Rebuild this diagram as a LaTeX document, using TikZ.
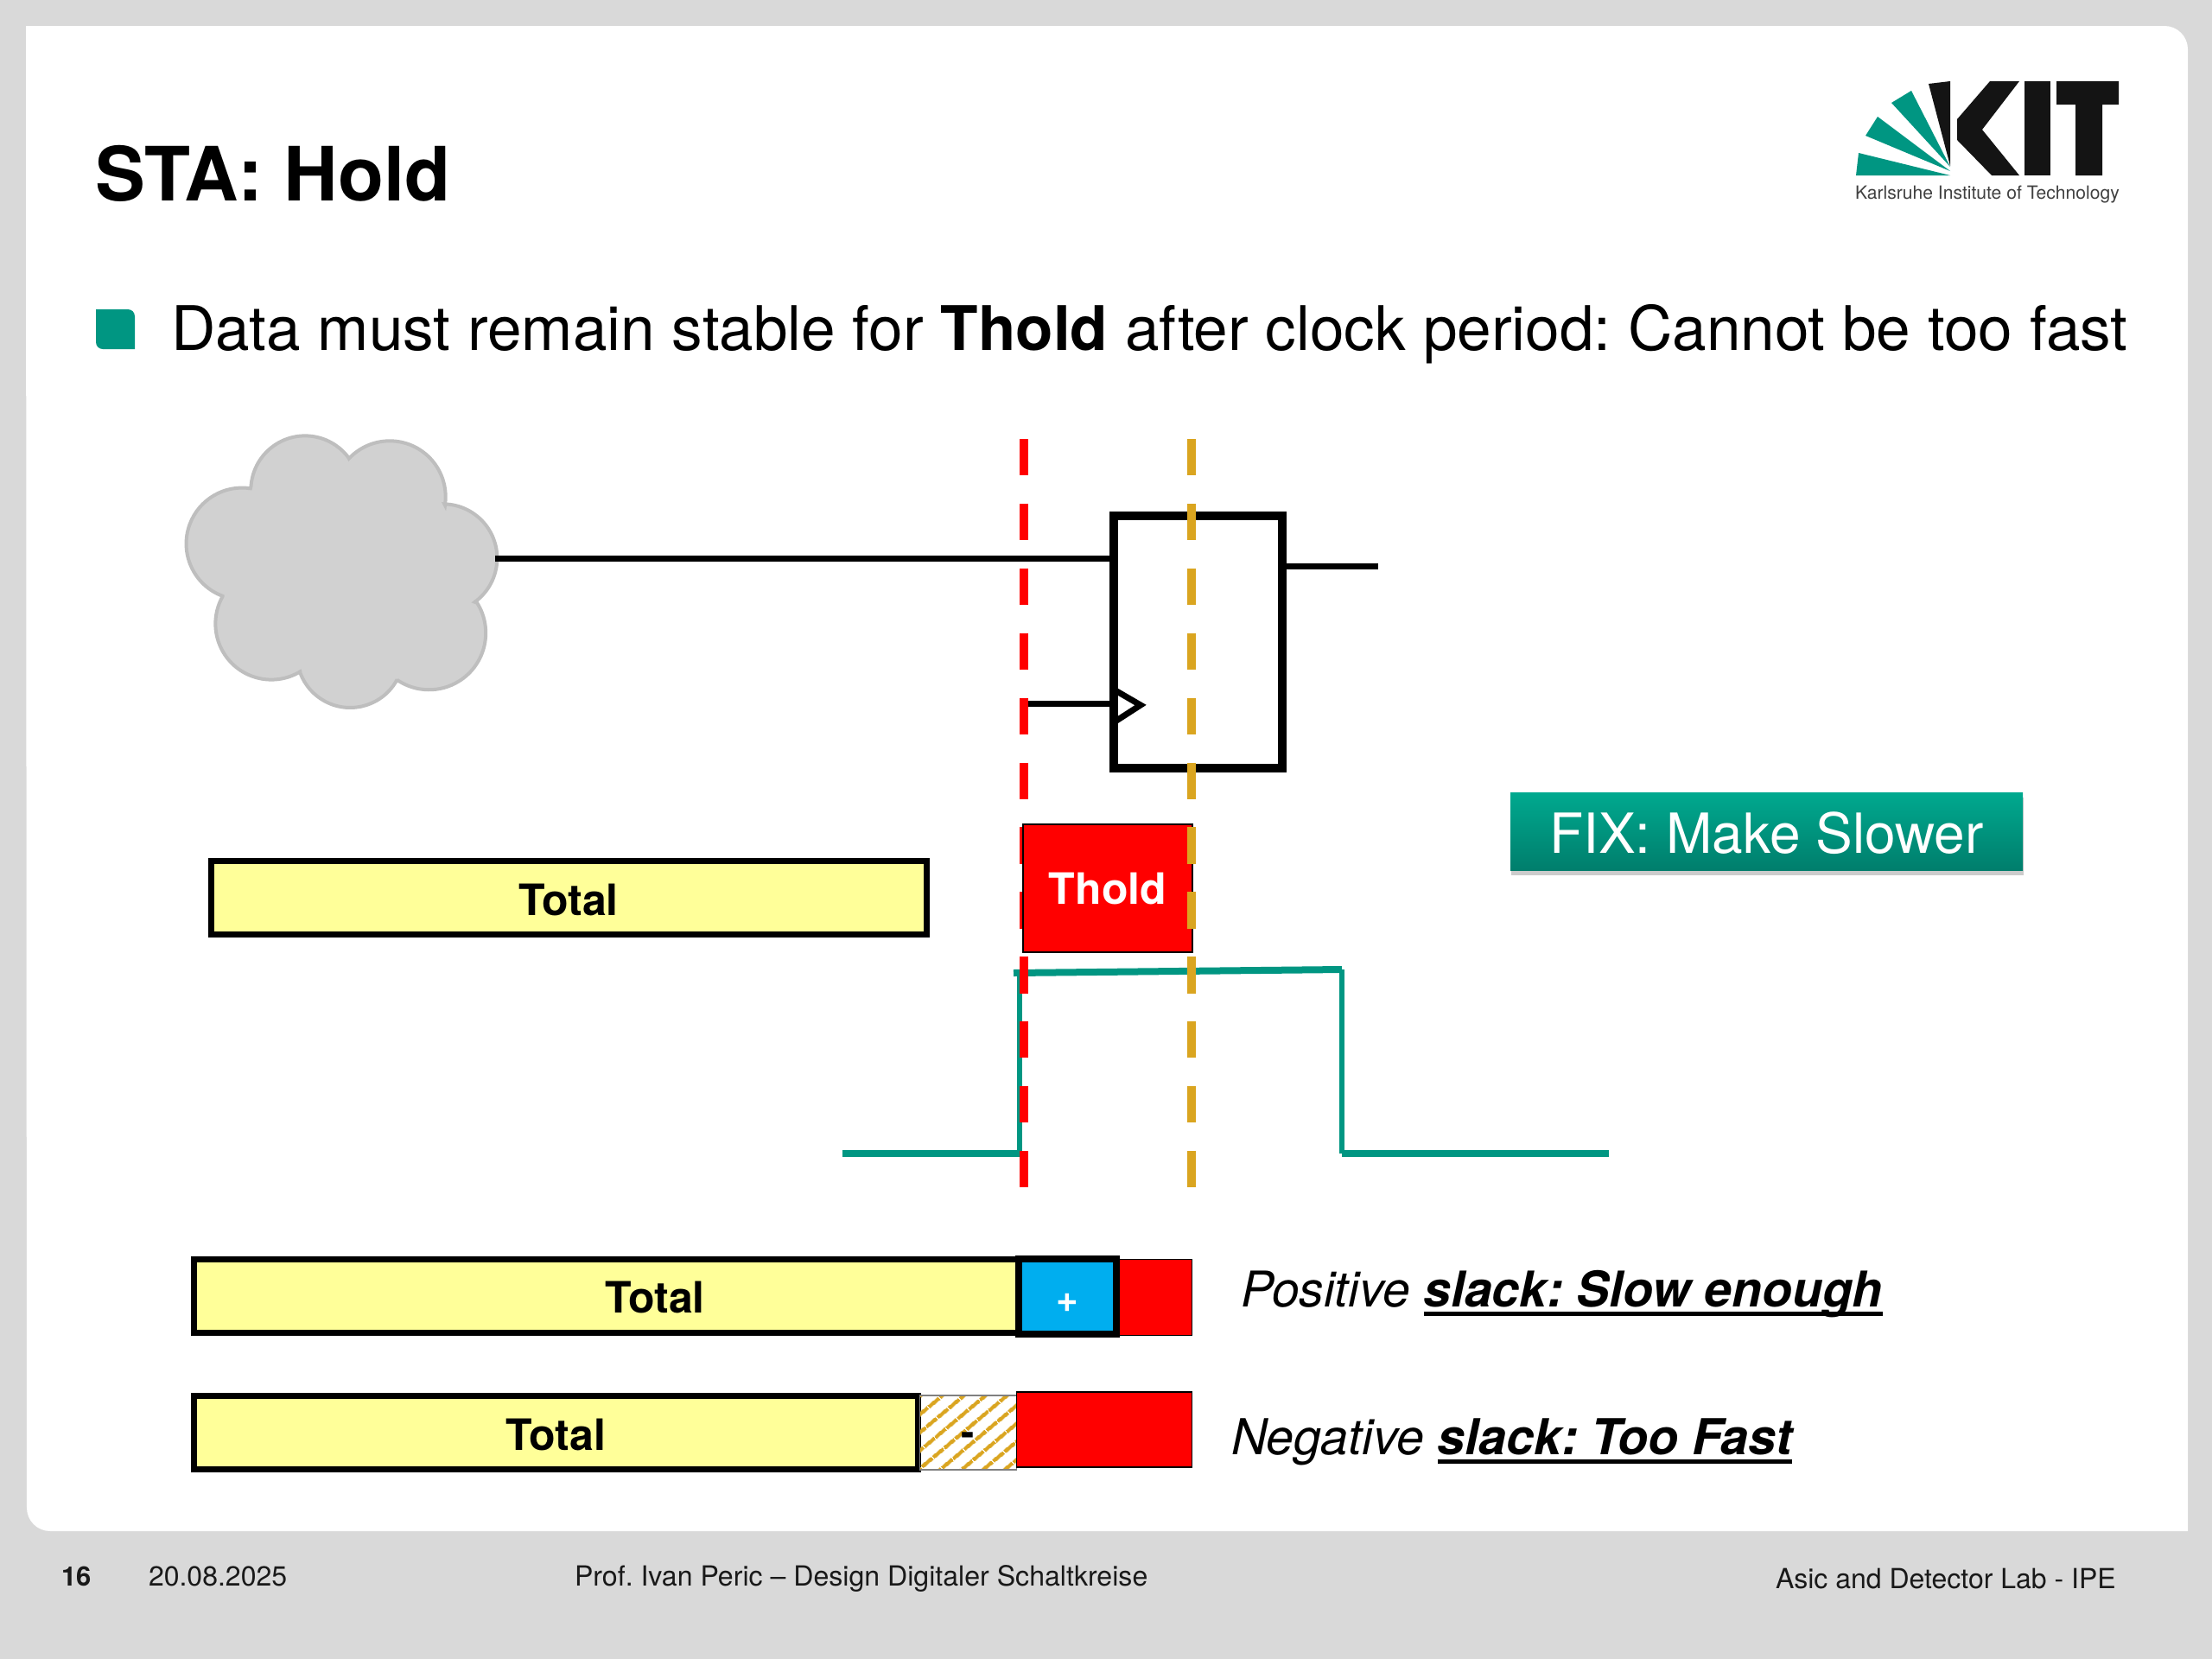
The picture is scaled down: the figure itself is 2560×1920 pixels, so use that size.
\documentclass[tikz,border=0pt]{standalone}
\usepackage{fontspec}
\setmainfont{TeX Gyre Heros}
\usetikzlibrary{positioning, shadows, patterns.meta}
\definecolor{slidegray}{HTML}{D9D9D9}
\definecolor{kitgreen}{HTML}{009682}
\definecolor{fixtop}{HTML}{00A98F}
\definecolor{fixbot}{HTML}{007E6C}
\definecolor{barfill}{HTML}{FFFF99}
\definecolor{slackblue}{HTML}{00AEEF}
\definecolor{holdorange}{HTML}{DAA520}
\definecolor{cloudfill}{HTML}{D1D1D1}
\definecolor{cloudline}{HTML}{BEBEBE}
\newcommand\px[1]{\fontsize{#1}{#1}\selectfont}
\newcommand\slackul[1]{\setbox0\hbox{#1}\rlap{\rule[-10.5pt]{\wd0}{5pt}}\box0}
\newcommand\dropby[2]{\raisebox{-#1}[\height][\depth]{#2}}
\tikzset{
  x=1pt,
  y=-1pt,
  every node/.style={inner sep=0pt, outer sep=0pt},
  plain/.style={anchor=base west},
  totalbar/.style={draw=black, fill=barfill, line width=7pt, font=\px{50}\bfseries, minimum height=85pt, text height=40pt, text depth=0pt},
  redbar/.style={draw=black, fill=red, line width=1.5pt},
  flop/.style={draw=black, line width=10pt, minimum width=195pt, minimum height=292pt},
  wire/.style={draw=black, line width=7pt},
  hold/.style={line width=10pt, dash pattern=on 42.3pt off 32.6pt},
  wave/.style={draw=kitgreen, line width=8pt},
  waveup/.style={draw=kitgreen, line width=6pt},
  footer/.style={plain, font=\px{32}, text=black!90}
}
\begin{document}
\frenchspacing
\begin{tikzpicture}
    \useasboundingbox (0,0) rectangle (2560,1920);
    \fill[slidegray] (0,0) rectangle (2560,1920);
    \fill[white] (30,30) -- (2505,30) arc[start angle=-90, end angle=0, radius=27]
      -- (2532,1772) -- (58,1772) arc[start angle=90, end angle=180, radius=27] -- cycle;

    \fill[kitgreen] (2148,203) -- (2151,177) -- (2257,203) -- cycle;
    \fill[kitgreen] (2159,157) -- (2173,135) -- (2257,198) -- cycle;
    \fill[kitgreen] (2189,119) -- (2212,105) -- (2257,193) -- cycle;
    \fill[black!92] (2232,97) -- (2257,94) -- (2257,192) -- cycle;
    \fill[black!92] (2265,138) -- (2303,94) -- (2337,94) -- (2294,150) -- (2337,203)
      -- (2305,203) -- (2265,162) -- cycle;
    \fill[black!92] (2343,94) rectangle (2373,203);
    \fill[black!92] (2380,94) -- (2452,94) -- (2452,121) -- (2433,121) -- (2433,203)
      -- (2402,203) -- (2402,121) -- (2380,121) -- cycle;
    \node[plain, font=\px{21.1}, text=black!75] (kitname) at (2147,230) {Karlsruhe Institute of Technology};

    \node[plain, font=\px{86.7}\bfseries] (title) at (110,232) {STA: Hold};
    \fill[kitgreen] (111,358) -- (148,358) arc[start angle=-90, end angle=0, radius=8]
      -- (156,404) -- (119,404) arc[start angle=90, end angle=180, radius=8] -- cycle;
    \node[plain, font=\px{71.1}] (bullet) at (198,405) {Data must remain stable for \textbf{Thold} after clock period: Cannot be too fast};

    \draw[draw=cloudline, fill=cloudfill, line width=4pt, scale around={0.995:(395,655)}]
      (404,530) arc[start angle=-136.7, end angle=8.5, radius=65]
      -- (515,583) arc[start angle=-88.4, end angle=54, radius=63]
      -- (553,698) arc[start angle=-32, end angle=124.3, radius=66]
      -- (460,787) arc[start angle=28.1, end angle=159.3, radius=62]
      -- (347,778) arc[start angle=59.1, end angle=209.4, radius=65]
      -- (257,690) arc[start angle=110.4, end angle=278.6, radius=65]
      -- (290,562) arc[start angle=184.2, end angle=324.1, radius=63] -- cycle;
    \coordinate (cloudout) at (573,646);

    \draw[wave] (975,1335) -- (1182,1335);
    \draw[waveup] (1180,1335) -- (1180,1126);
    \draw[wave] (1173,1126) -- (1553,1122);
    \draw[waveup] (1553,1122) -- (1553,1335);
    \draw[wave] (1553,1335) -- (1862,1335);

    \node[flop] (ff) at (1386.5,743) {};
    \coordinate (qout) at (1595,655);
    \coordinate (clkin) at (1190,814);
    \draw[wire] (cloudout) -- (ff.west |- cloudout);
    \draw[wire] (ff.east |- qout) -- (qout);
    \draw[wire] (clkin) -- (ff.west |- clkin);
    \draw[line width=7pt] (1289,798) -- (1320,816) -- (1289,836);

    \coordinate (redtop) at (1185,508);
    \coordinate (redbot) at (1185,1375);
    \coordinate (ortop) at (1379,508);
    \coordinate (orbot) at (1379,1375);
    \draw[hold, red] (redtop) -- (redbot);

    \node[totalbar, minimum width=828pt] (total) at (658,1039) {Total};
    \node[redbar, minimum width=196pt, minimum height=148pt, text=white, font=\px{50}\bfseries] (thold) at (1282,1028) {Thold};
    \draw[hold, holdorange] (ortop) -- (orbot);

    \node[draw=none, top color=fixtop, bottom color=fixbot, text=white, font=\px{64},
      minimum width=593pt, minimum height=90pt,
      drop shadow={shadow xshift=1pt, shadow yshift=-6pt, opacity=.4}] (fix) at (2044.5,962) {\dropby{2pt}{FIX: Make Slower}};

    \node[totalbar, minimum width=1067pt, text height=38pt] (posbar) at (758,1500) {Total};
    \node[draw=black, fill=slackblue, line width=8pt, minimum width=113pt, minimum height=87pt,
      text=white, font=\px{44}\bfseries, anchor=east] (plusbox) at (posbar.east) {\dropby{8pt}{+}};
    \node[redbar, minimum width=84pt, minimum height=88pt, yshift=-1.5pt, right=4pt of posbar] (posred) {};

    \node[totalbar, minimum width=838pt] (negbar) at (643.5,1658) {Total};
    \node[draw=gray, line width=1.5pt, minimum width=112pt, minimum height=86pt, font=\px{46}\bfseries,
      pattern={Lines[angle=40, distance=17pt, line width=5pt]}, pattern color=holdorange,
      right=2pt of negbar] (minusbox) {\dropby{8pt}{-}};
    \node[redbar, minimum width=203pt, minimum height=87pt, yshift=3.5pt, right=0pt of minusbox] (negred) {};

    \node[plain, font=\px{57}\itshape] (posslack) at (1436,1512) {Positive \slackul{\bfseries slack: Slow enough}};
    \node[plain, font=\px{57.3}\itshape] (negslack) at (1425,1683) {Negative \slackul{\bfseries slack: Too Fast}};

    \node[footer, font=\px{31}\bfseries] (pageno) at (71,1835) {16};
    \node[footer] (date) at (172,1835) {20.08.2025};
    \node[footer, font=\px{32.1}] (lecturer) at (665,1835) {Prof. Ivan Peric -- Design Digitaler Schaltkreise};
    \node[footer] (lab) at (2055,1838) {Asic and Detector Lab - IPE};
\end{tikzpicture}
\end{document}
